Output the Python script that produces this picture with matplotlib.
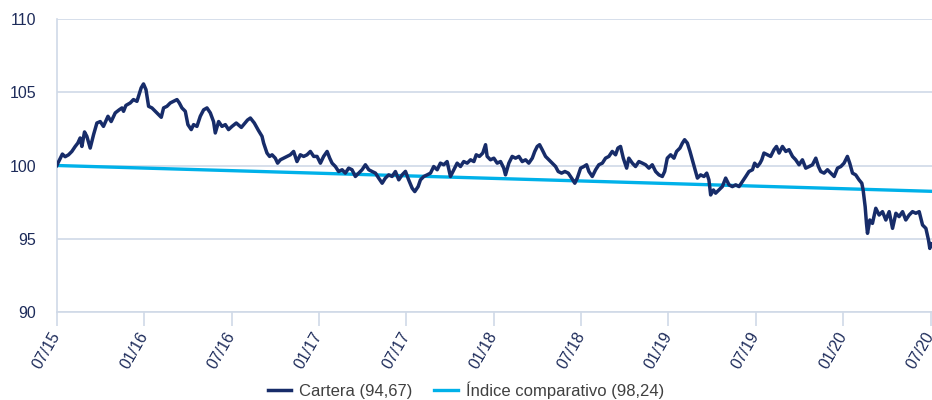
import matplotlib
matplotlib.use('Agg')
from matplotlib import pyplot as plt

plt.rcParams['font.family'] = ['Liberation Sans', 'DejaVu Sans']

# months since 07/15 and value of the portfolio (base 100)
meses = [0.0, 0.07, 0.38, 0.57, 0.80, 1.03, 1.26, 1.44, 1.60, 1.72, 1.90, 2.06, 2.29, 2.52, 2.75,
         2.98, 3.20, 3.51, 3.73, 4.01, 4.28, 4.47, 4.58, 4.74, 5.04, 5.26, 5.50, 5.61, 5.79,
         5.95, 6.12, 6.30, 6.53, 6.76, 6.98, 7.17, 7.33, 7.56, 7.79, 8.01, 8.25, 8.41, 8.59,
         8.82, 9.00, 9.23, 9.39, 9.62, 9.85, 10.08, 10.31, 10.54, 10.76, 10.88, 11.11, 11.34,
         11.57, 11.79, 12.03, 12.32, 12.67, 13.09, 13.29, 13.56, 13.84, 14.09, 14.20, 14.43,
         14.61, 14.78, 15.00, 15.16, 15.35, 15.57, 15.81, 16.03, 16.26, 16.49, 16.72, 16.95,
         17.18, 17.41, 17.64, 17.87, 18.10, 18.32, 18.56, 18.74, 18.90, 19.13, 19.35, 19.59,
         19.81, 20.04, 20.27, 20.50, 20.73, 20.96, 21.19, 21.42, 21.65, 21.88, 22.10, 22.34,
         22.56, 22.79, 23.02, 23.25, 23.48, 23.71, 23.94, 24.16, 24.40, 24.58, 24.81, 24.97,
         25.20, 25.43, 25.66, 25.88, 26.12, 26.34, 26.57, 26.80, 27.03, 27.26, 27.49, 27.72,
         27.94, 28.18, 28.41, 28.64, 28.80, 29.02, 29.25, 29.44, 29.55, 29.78, 30.01, 30.24,
         30.47, 30.69, 30.81, 31.04, 31.27, 31.50, 31.73, 31.96, 32.19, 32.41, 32.65, 32.82,
         32.99, 33.15, 33.33, 33.56, 33.79, 34.02, 34.25, 34.43, 34.66, 34.89, 35.12, 35.35,
         35.57, 35.74, 35.97, 36.19, 36.38, 36.54, 36.77, 37.00, 37.22, 37.46, 37.68, 37.91,
         38.14, 38.37, 38.53, 38.71, 38.90, 39.13, 39.28, 39.52, 39.74, 39.97, 40.21, 40.43,
         40.66, 40.89, 41.12, 41.35, 41.58, 41.74, 41.92, 42.15, 42.38, 42.56, 42.79, 42.96,
         43.11, 43.30, 43.48, 43.64, 43.80, 43.99, 44.21, 44.44, 44.63, 44.78, 44.90, 45.09,
         45.24, 45.47, 45.70, 45.93, 46.16, 46.39, 46.62, 46.85, 47.08, 47.31, 47.53, 47.77,
         47.92, 48.11, 48.29, 48.41, 48.56, 48.80, 49.02, 49.25, 49.42, 49.60, 49.83, 50.06,
         50.28, 50.52, 50.74, 50.97, 51.20, 51.43, 51.66, 51.89, 52.12, 52.30, 52.46, 52.69,
         52.92, 53.15, 53.38, 53.61, 53.84, 54.06, 54.29, 54.45, 54.64, 54.86, 55.09, 55.28,
         55.37, 55.51, 55.60, 55.67, 55.83, 56.01, 56.24, 56.47, 56.70, 56.93, 57.16, 57.39,
         57.62, 57.84, 58.08, 58.30, 58.53, 58.76, 58.99, 59.22, 59.45, 59.68, 59.86, 59.95,
         60.0]
cartera = [100.0, 100.16, 100.78, 100.6, 100.73, 100.96, 101.3, 101.53, 101.88, 101.3, 102.29,
           101.99, 101.19, 102.1, 102.9, 103.0, 102.67, 103.36, 103.0, 103.59, 103.8, 103.93,
           103.7, 104.1, 104.27, 104.5, 104.38, 104.73, 105.3, 105.57, 105.18, 104.04, 103.93,
           103.7, 103.47, 103.29, 103.93, 104.04, 104.27, 104.38, 104.5, 104.27, 103.93, 103.7,
           102.79, 102.45, 102.79, 102.67, 103.36, 103.8, 103.93, 103.59, 103.0, 102.22, 103.0,
           102.67, 102.79, 102.45, 102.67, 102.9, 102.6, 103.1, 103.24, 102.9, 102.4, 101.99,
           101.53, 100.85, 100.62, 100.73, 100.5, 100.16, 100.39, 100.5, 100.62, 100.73, 100.96,
           100.27, 100.73, 100.62, 100.73, 100.96, 100.62, 100.62, 100.16, 100.62, 100.96, 100.5,
           100.16, 99.93, 99.59, 99.71, 99.48, 99.82, 99.71, 99.25, 99.48, 99.71, 100.05, 99.71,
           99.59, 99.48, 99.14, 98.79, 99.14, 99.36, 99.25, 99.59, 99.02, 99.36, 99.6, 99.02,
           98.45, 98.22, 98.56, 99.02, 99.25, 99.36, 99.48, 99.93, 99.71, 100.16, 100.05, 100.27,
           99.25, 99.71, 100.16, 99.93, 100.27, 100.16, 100.39, 100.27, 100.73, 100.62, 100.85,
           101.42, 100.62, 100.39, 100.5, 100.16, 100.27, 99.82, 99.36, 100.16, 100.62, 100.5,
           100.62, 100.27, 100.39, 100.16, 100.5, 100.96, 101.3, 101.42, 101.08, 100.62, 100.39,
           100.16, 99.93, 99.59, 99.48, 99.59, 99.48, 99.14, 98.79, 99.14, 99.82, 99.93, 100.05,
           99.59, 99.25, 99.71, 100.05, 100.16, 100.5, 100.62, 100.96, 100.73, 101.19, 101.3,
           100.5, 99.82, 100.5, 100.16, 99.93, 100.27, 100.16, 100.05, 99.82, 100.05, 99.59,
           99.36, 99.25, 99.59, 100.5, 100.73, 100.5, 100.96, 101.19, 101.53, 101.76, 101.53,
           100.96, 100.39, 99.82, 99.14, 99.36, 99.25, 99.48, 99.02, 97.99, 98.33, 98.11, 98.33,
           98.56, 99.14, 98.68, 98.56, 98.68, 98.56, 98.9, 99.25, 99.59, 99.71, 100.16, 99.93,
           100.16, 100.39, 100.85, 100.73, 100.62, 101.08, 101.3, 100.85, 101.3, 100.96, 101.08,
           100.62, 100.39, 100.05, 100.39, 99.82, 99.93, 100.05, 100.5, 99.93, 99.59, 99.48,
           99.71, 99.48, 99.25, 99.82, 99.93, 100.16, 100.62, 100.16, 99.48, 99.36, 99.02, 98.79,
           98.33, 97.19, 96.05, 95.37, 96.28, 96.05, 97.08, 96.62, 96.85, 96.28, 96.85, 95.71,
           96.74, 96.51, 96.85, 96.28, 96.62, 96.85, 96.74, 96.85, 95.94, 95.71, 94.91, 94.34,
           94.67]

meses_indice = [0, 60]
indice = [100.0, 98.24]

ticks = [0, 6, 12, 18, 24, 30, 36, 42, 48, 54, 60]
tick_labels = ['07/15', '01/16', '07/16', '01/17', '07/17', '01/18', '07/18', '01/19',
               '07/19', '01/20', '07/20']

navy = '#172c69'
cyan = '#00b1e9'
grid_c = '#d0d9e7'

fig = plt.figure(figsize=(9.32, 4.0), dpi=100)
ax = fig.add_axes([0.061, 0.22, 0.939, 0.7325])

ax.plot(meses_indice, indice, color=cyan, lw=2.4, label='Índice comparativo (98,24)', zorder=3)
ax.plot(meses, cartera, color=navy, lw=2.5, label='Cartera (94,67)', zorder=4)

ax.set_ylim(90, 110)
ax.set_yticks([90, 95, 100, 105, 110])
ax.set_xlim(0, 60.1)
ax.set_xticks(ticks)
ax.set_xticklabels(tick_labels, rotation=60, ha='right', va='center', rotation_mode='anchor')

ax.yaxis.grid(True, color=grid_c, lw=1.2)
ax.set_axisbelow(True)
for s in ['top', 'right']:
    ax.spines[s].set_visible(False)
for s in ['left', 'bottom']:
    ax.spines[s].set_color(grid_c)
    ax.spines[s].set_linewidth(1.2)

ax.tick_params(axis='y', length=0, pad=15, labelsize=11.5, labelcolor='#1d2b5a')
ax.tick_params(axis='x', length=10, width=1.2, color=grid_c, pad=5, labelsize=11.5,
               labelcolor='#1d2b5a')

h, l = ax.get_legend_handles_labels()
leg = fig.legend(h[::-1], l[::-1], loc='center', bbox_to_anchor=(0.5, 0.025), ncol=2,
                 frameon=False, fontsize=12, handlelength=1.4, handletextpad=0.5,
                 columnspacing=1.3, labelcolor='#404040')

fig.savefig('out.png', dpi=100)
